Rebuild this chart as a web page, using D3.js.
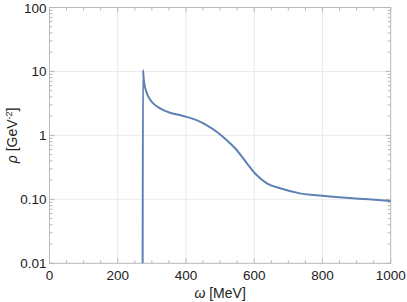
<!DOCTYPE html>
<html><head><meta charset="utf-8">
<script src="https://cdn.jsdelivr.net/npm/d3@7/dist/d3.min.js"></script>
<style>body{margin:0;background:#fff}svg{display:block}</style>
</head><body>
<svg id="c" width="407" height="302"></svg>
<script>
const omega = [273, 274, 276, 279, 284, 290, 304, 324, 353, 382, 402, 431, 460, 490, 519, 544, 578, 607, 637, 676, 734, 800, 870, 935, 1000];
const rho   = [0.01, 10.5, 7.8, 6.0, 4.8, 4.0, 3.16, 2.64, 2.26, 2.08, 1.95, 1.73, 1.45, 1.14, 0.845, 0.63, 0.37, 0.24, 0.178, 0.149, 0.124, 0.114, 0.106, 0.1, 0.094];
const xTicks = [0, 200, 400, 600, 800, 1000];
const yTicks = [0.01, 0.1, 1, 10, 100];
const yTickLabels = ["0.01", "0.10", "1", "10", "100"];

const svg = d3.select("#c");
const L = 49.5, R = 390.7, T = 7.5, B = 263.3;
const x = d3.scaleLinear().domain([0, 1000]).range([L, R]);
const y = d3.scaleLog().domain([0.01, 100]).range([B, T]);

const minorX = d3.range(0, 1001, 50).filter(v => v % 200 !== 0);
const minorY = [];
[0.01, 0.1, 1, 10].forEach(d => { for (let k = 2; k <= 9; k++) minorY.push(d * k); });

// grid
const g = svg.append("g");
g.selectAll(".gx").data(xTicks.slice(1, -1)).join("line")
  .attr("x1", d => x(d)).attr("x2", d => x(d)).attr("y1", T).attr("y2", B)
  .attr("stroke", "#ebebeb").attr("stroke-width", 1);
g.selectAll(".gy").data(yTicks.slice(1, -1)).join("line")
  .attr("y1", d => y(d)).attr("y2", d => y(d)).attr("x1", L).attr("x2", R)
  .attr("stroke", "#ebebeb").attr("stroke-width", 1);

// frame
svg.append("rect").attr("x", L).attr("y", T).attr("width", R - L).attr("height", B - T)
  .attr("fill", "none").attr("stroke", "#b8b8b8").attr("stroke-width", 1);

// ticks inward
const tk = svg.append("g").attr("stroke", "#b8b8b8").attr("stroke-width", 1);
xTicks.forEach(v => {
  tk.append("line").attr("x1", x(v)).attr("x2", x(v)).attr("y1", B).attr("y2", B - 5);
  tk.append("line").attr("x1", x(v)).attr("x2", x(v)).attr("y1", T).attr("y2", T + 5);
});
minorX.forEach(v => {
  tk.append("line").attr("x1", x(v)).attr("x2", x(v)).attr("y1", B).attr("y2", B - 3);
  tk.append("line").attr("x1", x(v)).attr("x2", x(v)).attr("y1", T).attr("y2", T + 3);
});
yTicks.forEach(v => {
  tk.append("line").attr("y1", y(v)).attr("y2", y(v)).attr("x1", L).attr("x2", L + 5);
  tk.append("line").attr("y1", y(v)).attr("y2", y(v)).attr("x1", R).attr("x2", R - 5);
});
minorY.forEach(v => {
  tk.append("line").attr("y1", y(v)).attr("y2", y(v)).attr("x1", L).attr("x2", L + 3);
  tk.append("line").attr("y1", y(v)).attr("y2", y(v)).attr("x1", R).attr("x2", R - 3);
});

// tick labels
const font = "Liberation Sans, Arial, sans-serif";
svg.append("g").selectAll("text").data(xTicks).join("text")
  .attr("x", d => x(d)).attr("y", B + 17).attr("text-anchor", "middle")
  .attr("font-family", font).attr("font-size", 13.5).attr("fill", "#222").text(d => d);
svg.append("g").selectAll("text").data(yTicks).join("text")
  .attr("x", L - 3).attr("y", d => y(d) + 5).attr("text-anchor", "end")
  .attr("font-family", font).attr("font-size", 13.5).attr("fill", "#222")
  .text((d, i) => yTickLabels[i]);

// axis labels
const xl = svg.append("text").attr("x", (L + R) / 2).attr("y", 298).attr("text-anchor", "middle")
  .attr("font-family", font).attr("font-size", 14).attr("fill", "#222");
xl.append("tspan").attr("font-style", "italic").text("ω");
xl.append("tspan").text(" [MeV]");

const yl = svg.append("text").attr("transform", `translate(17,${(T + B) / 2}) rotate(-90)`)
  .attr("text-anchor", "middle").attr("font-family", font).attr("font-size", 14).attr("fill", "#222");
yl.append("tspan").attr("font-style", "italic").text("ρ");
yl.append("tspan").text(" [GeV");
yl.append("tspan").attr("font-size", 9).attr("dy", -5).text("-2");
yl.append("tspan").attr("dy", 5).text("]");

// curve
const data = omega.map((w, i) => [w, rho[i]]);
svg.append("path").datum(data)
  .attr("d", d3.line().x(d => x(d[0])).y(d => y(d[1])).curve(d3.curveMonotoneX))
  .attr("fill", "none").attr("stroke", "#5E81B5").attr("stroke-width", 2);
</script>
</body></html>
